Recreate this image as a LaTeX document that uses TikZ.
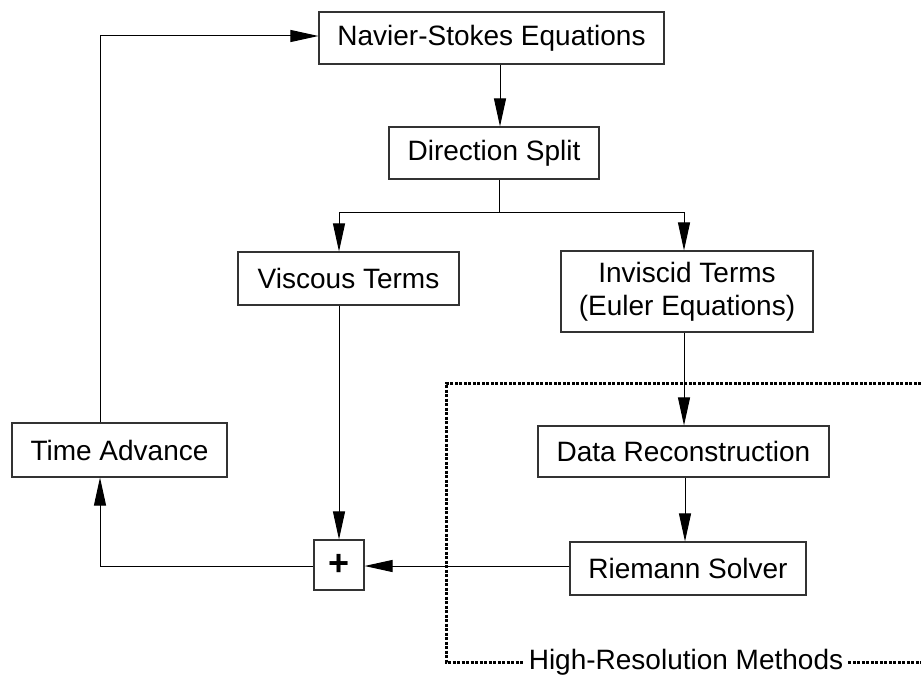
\documentclass[tikz,border=0pt]{standalone}
\usepackage{fontspec}
\setmainfont{Liberation Sans}
\usetikzlibrary{arrows.meta}
\begin{document}
\begin{tikzpicture}[x=1pt,y=-1pt,
  box/.style={draw=black!80, line width=1.1pt, inner sep=0pt, align=center, font=\fontsize{28}{33}\selectfont},
  arr/.style={line width=1pt, -{Triangle[length=28pt,width=12pt]}},
  ln/.style={line width=1pt},
  hr/.style={line width=3pt, dash pattern=on 3pt off 1.5pt}]
\useasboundingbox (0,0) rectangle (921,685);
\node[box, minimum width=345pt, minimum height=52pt] (ns) at (491.5,38) {Navier-Stokes Equations};
\node[box, minimum width=210pt, minimum height=52pt] (ds) at (494,153) {Direction Split};
\node[box, minimum width=221pt, minimum height=53pt] (vt) at (348.5,278.5) {Viscous Terms};
\node[box, minimum width=252pt, minimum height=81pt] (it) at (687,291.5) {Inviscid Terms\\(Euler Equations)};
\node[box, minimum width=291pt, minimum height=51pt] (dr) at (683.5,451.5) {Data Reconstruction};
\node[box, minimum width=236pt, minimum height=53pt] (rs) at (688,568.5) {Riemann Solver};
\node[box, minimum width=215pt, minimum height=54pt] (ta) at (119.5,450) {Time Advance};
\node[box, minimum width=50pt, minimum height=50pt, font=\fontsize{36}{40}\selectfont\bfseries] (pl) at (339,565) {+};
\node[font=\fontsize{28}{33}\selectfont, inner xsep=5pt, inner ysep=0pt, anchor=center] (hrm) at (686,662) {High-Resolution Methods};
% connectors
\coordinate (nsin) at (ns.west |- 0,36);
\coordinate (tax) at (100,0);
\draw[arr] (ta.north -| tax) |- (nsin);
\coordinate (x500) at (500,0);
\draw[arr] (ns.south -| x500) -- (ds.north -| x500);
\coordinate (split) at (499,212);
\coordinate (xv) at (339,0);
\coordinate (xi) at (684,0);
\draw[ln] (ds.south -| split) -- (split);
\draw[arr] (split) -| (vt.north -| xv);
\draw[arr] (split) -| (it.north -| xi);
\draw[arr] (vt.south -| xv) -- (pl.north -| xv);
\draw[arr] (it.south -| xi) -- (dr.north -| xi);
\coordinate (xd) at (685,0);
\draw[arr] (dr.south -| xd) -- (rs.north -| xd);
\coordinate (y566) at (0,566);
\draw[arr] (rs.west |- y566) -- (pl.east |- y566);
\draw[arr] (pl.west |- y566) -| (ta.south -| tax);
% high-resolution frame
\coordinate (tr) at (921,383);
\coordinate (tl) at (446,383);
\coordinate (bl) at (446,662);
\coordinate (br) at (921,662);
\draw[hr] (tr) -- (tl) -- (bl) -- (hrm.west);
\draw[hr] (hrm.east) -- (br);
\end{tikzpicture}
\end{document}
